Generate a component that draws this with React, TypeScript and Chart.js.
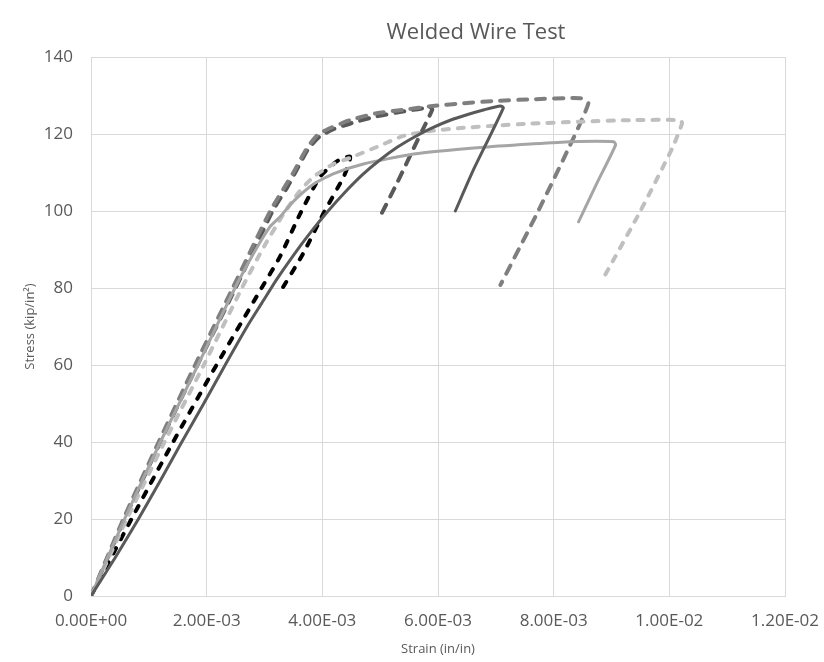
import React, { useEffect, useRef } from "react";
import { Chart, registerables } from "chart.js";

Chart.register(...registerables);

const TITLE = "Welded Wire Test";
const X_TITLE = "Strain (in/in)";
const Y_TITLE = "Stress (kip/in²)";

// tick values
const xTickValues = [0, 0.002, 0.004, 0.006, 0.008, 0.01, 0.012];
const yTickValues = [0, 20, 40, 60, 80, 100, 120, 140];

// Series A – dark solid
const aStrain = [0, 0.00042, 0.00082, 0.0012, 0.00157, 0.00195, 0.00232, 0.0027, 0.00295, 0.0032, 0.0035, 0.0038, 0.0041, 0.0044, 0.0047, 0.005, 0.0053, 0.0056, 0.0059, 0.0062, 0.0065, 0.0068, 0.00708, 0.00713, 0.00661, 0.0063];
const aStress = [0, 10, 20, 30, 40, 50, 60, 70, 76, 82, 88.5, 94.5, 100, 105, 109.5, 113.3, 116.6, 119.3, 121.6, 123.5, 125, 126.3, 127.3, 126.8, 110.6, 100];

// Series B – medium gray dashed
const bStrain = [0, 0.00056, 0.00117, 0.0018, 0.00245, 0.0031, 0.0035, 0.00372, 0.0039, 0.0041, 0.00448, 0.00494, 0.00546, 0.00587, 0.00644, 0.007, 0.0076, 0.00846, 0.0086, 0.00823, 0.0077, 0.00708];
const bStress = [0, 20, 40, 60, 80, 100, 110, 116, 119.5, 121.3, 123.6, 125.4, 126.4, 127.2, 128, 128.6, 129, 129.3, 128, 115.4, 99, 80.8];

// Series C – dark gray dashed
const cStrain = [0, 0.00058, 0.0012, 0.00184, 0.0025, 0.00314, 0.0034, 0.00355, 0.00375, 0.00395, 0.0042, 0.0045, 0.00494, 0.00546, 0.00587, 0.0059, 0.00565, 0.0053, 0.00497];
const cStress = [0, 20, 40, 60, 80, 100, 106.3, 110.5, 116, 119.3, 121.3, 122.8, 124.6, 126, 126.9, 126.3, 118.5, 107.5, 97.7];

// Series D – medium-light gray solid
const dStrain = [0, 0.00058, 0.0012, 0.00185, 0.00249, 0.00285, 0.0031, 0.00327, 0.0035, 0.00385, 0.0042, 0.00471, 0.00558, 0.00673, 0.0076, 0.00829, 0.00904, 0.00907, 0.00875, 0.00843];
const dStress = [0, 20, 40, 60, 80, 90, 96, 98.5, 102.5, 107, 109.7, 112.2, 114.8, 116.5, 117.4, 118, 118, 117.1, 107.3, 97.2];

// Series E – light gray dashed
const eStrain = [0, 0.00062, 0.00127, 0.00195, 0.00261, 0.003, 0.00332, 0.0036, 0.00385, 0.00419, 0.00448, 0.005, 0.0054, 0.00587, 0.00644, 0.00702, 0.0076, 0.00846, 0.00933, 0.01019, 0.01022, 0.01005, 0.0095, 0.00889];
const eStress = [0, 20, 40, 60, 80, 91, 99, 105, 108.9, 112.2, 113.8, 117, 119.5, 120.8, 121.6, 122.2, 122.7, 123.2, 123.6, 123.6, 122.8, 116.3, 100, 83.4];

// Series F – black dashed
const fStrain = [0, 0.0007, 0.00142, 0.00217, 0.00295, 0.00327, 0.00362, 0.00396, 0.0042, 0.00434, 0.00448, 0.00445, 0.00437, 0.00402, 0.00367, 0.00324];
const fStress = [0, 20, 40, 60, 80, 88.2, 99.4, 108.9, 112.3, 113.7, 114.1, 112, 108.9, 99.4, 89, 78.2];

const toPts = (xs: number[], ys: number[]) => xs.map((x, i) => ({ x, y: ys[i] }));

const fmtSci = (v: number) => {
  const s = Number(v).toExponential(2).toUpperCase();
  const m = s.match(/^(-?[\d.]+)E([+-])(\d+)$/);
  if (!m) return s;
  return `${m[1]}E${m[2]}${m[3].padStart(2, "0")}`;
};

const FONT = '"Open Sans", "DejaVu Sans", sans-serif';
const TEXT_COLOR = "#595959";
const GRID = "#d9d9d9";

const titlePlugin = {
  id: "customTitle",
  afterDraw(chart: any) {
    const ctx = chart.ctx;
    ctx.save();
    ctx.font = `22px ${FONT}`;
    ctx.fillStyle = TEXT_COLOR;
    ctx.textAlign = "center";
    ctx.textBaseline = "middle";
    ctx.fillText(TITLE, 476, 33);
    ctx.restore();
  },
};

export default function App() {
  const ref = useRef<HTMLCanvasElement>(null);

  useEffect(() => {
    document.body.style.margin = "0";
    const canvas = ref.current;
    if (!canvas) return;
    const mk = (label: string, xs: number[], ys: number[], color: string, width: number, dash: number[]) => ({
      label,
      data: toPts(xs, ys),
      showLine: true,
      borderColor: color,
      backgroundColor: color,
      borderWidth: width,
      borderDash: dash,
      borderCapStyle: "round" as const,
      borderJoinStyle: "round" as const,
      pointRadius: 0,
      pointHoverRadius: 0,
      fill: false,
      tension: 0.2,
    });
    const chart = new Chart(canvas, {
      type: "scatter",
      data: {
        datasets: [
          mk("A", aStrain, aStress, "#595959", 3, []),
          mk("D", dStrain, dStress, "#a5a5a5", 3, []),
          mk("E", eStrain, eStress, "#bfbfbf", 4, [6, 9]),
          mk("B", bStrain, bStress, "#7f7f7f", 4, [9, 9]),
          mk("C", cStrain, cStress, "#595959", 4, [9, 9]),
          mk("F", fStrain, fStress, "#000000", 4, [6, 10]),
        ],
      },
      options: {
        responsive: false,
        animation: false,
        devicePixelRatio: 1,
        layout: { padding: { top: 57, right: 39, bottom: 0, left: 0 } },
        plugins: {
          legend: { display: false },
          tooltip: { enabled: false },
          title: { display: false },
        },
        scales: {
          x: {
            type: "linear",
            min: 0,
            max: 0.012,
            afterBuildTicks: (scale: any) => {
              scale.ticks = xTickValues.map((v) => ({ value: v }));
            },
            afterFit: (scale: any) => {
              scale.height = 66;
              scale.paddingLeft = 0;
              scale.paddingRight = 0;
            },
            grid: { color: GRID, drawTicks: false, lineWidth: 1 },
            border: { color: GRID },
            ticks: {
              color: TEXT_COLOR,
              font: { family: FONT, size: 17 },
              padding: 15,
              maxRotation: 0,
              autoSkip: false,
              callback: (v: any) => fmtSci(Number(v)),
            },
            title: {
              display: true,
              text: X_TITLE,
              color: TEXT_COLOR,
              font: { family: FONT, size: 13 },
              padding: { top: 0, bottom: 5 },
            },
          },
          y: {
            type: "linear",
            min: 0,
            max: 140,
            afterBuildTicks: (scale: any) => {
              scale.ticks = yTickValues.map((v) => ({ value: v }));
            },
            afterFit: (scale: any) => {
              scale.width = 91;
              scale.paddingTop = 0;
              scale.paddingBottom = 0;
            },
            grid: { color: GRID, drawTicks: false, lineWidth: 1 },
            border: { color: GRID },
            ticks: {
              color: TEXT_COLOR,
              font: { family: FONT, size: 17 },
              padding: 18,
              callback: (v: any) => String(v),
            },
            title: {
              display: true,
              text: Y_TITLE,
              color: TEXT_COLOR,
              font: { family: FONT, size: 13 },
              padding: { top: 22, bottom: 0 },
            },
          },
        },
      },
      plugins: [titlePlugin],
    });
    return () => chart.destroy();
  }, []);

  return (
    <div style={{ position: "absolute", left: 0, top: 0, width: 824, height: 662 }}>
      <canvas ref={ref} width={824} height={662} style={{ width: 824, height: 662 }} />
    </div>
  );
}
